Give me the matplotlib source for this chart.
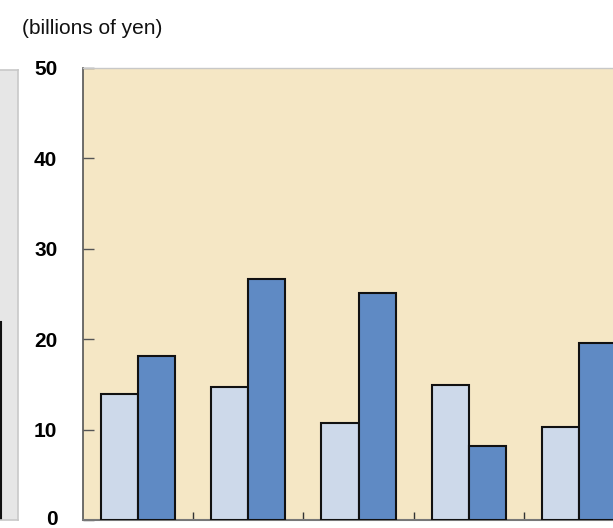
import matplotlib
matplotlib.use("Agg")
import matplotlib.pyplot as plt
import matplotlib.transforms as mtransforms
import numpy as np

plt.rcParams['font.family'] = ['Liberation Sans', 'DejaVu Sans']

# Data
categories = ["A", "B", "C", "D", "E"]
series_light = [13.9, 14.7, 10.7, 14.9, 10.3]
series_dark = [18.1, 26.7, 25.1, 8.2, 19.6]
y_ticks = [0, 10, 20, 30, 40, 50]
left_panel_values = [22.0]

W, H = 613, 528
fig = plt.figure(figsize=(W / 100, H / 100), dpi=100)

def px_axes(x0, y0, x1, y1):
    return fig.add_axes([x0 / W, 1 - y1 / H, (x1 - x0) / W, (y1 - y0) / H])

light_c = "#cdd9ea"
dark_c = "#5f8ac4"
edge_c = "#111111"

# Neighbouring panel on the left (only its edge shows)
axl = px_axes(-120, 70, 18, 520)
axl.set_facecolor("#e6e6e6")
axl.set_xlim(0, 1)
axl.set_ylim(0, 50)
axl.bar([0.5], left_panel_values, width=0.378, align="edge", color=dark_c,
        edgecolor=edge_c, linewidth=1.5)
axl.set_xticks([])
axl.set_yticks([])
for s in axl.spines.values():
    s.set_color("#c8c8c8")
    s.set_linewidth(1.2)

# Main panel
ax = px_axes(83, 68, 634, 520)
ax.set_facecolor("#f5e7c5")
x = np.arange(len(categories))
bw = 0.336
ax.bar(x - bw / 2, series_light, width=bw, color=light_c, edgecolor=edge_c,
       linewidth=1.5, zorder=3)
ax.bar(x + bw / 2, series_dark, width=bw, color=dark_c, edgecolor=edge_c,
       linewidth=1.5, zorder=3)
ax.set_xlim(-0.5, len(categories) - 0.5)
ax.set_ylim(0, 50)

ax.set_yticks(y_ticks)
ax.set_yticklabels([str(v) for v in y_ticks], fontsize=15, fontweight="bold")
ax.tick_params(axis="y", direction="in", length=8, width=1, color="#555555",
               pad=18.5)
# keep the bottom "0" label inside the canvas
lbl0 = ax.get_yticklabels()[0]
lbl0.set_transform(lbl0.get_transform() +
                   mtransforms.ScaledTranslation(0, 2 / 72, fig.dpi_scale_trans))
ax.set_xticks(np.arange(len(categories) - 1) + 0.5)
ax.set_xticklabels([])
ax.tick_params(axis="x", direction="in", length=6, width=1, color="#333333")

ax.spines["left"].set_color("#555555")
ax.spines["left"].set_linewidth(1.2)
ax.spines["bottom"].set_color("#777777")
ax.spines["bottom"].set_linewidth(1.5)
ax.spines["top"].set_color("#c8c8c8")
ax.spines["top"].set_linewidth(1.0)
ax.spines["right"].set_visible(False)

fig.text(22 / W, 1 - 28 / H, "(billions of yen)", fontsize=15,
         ha="left", va="center", color="#111111")

fig.savefig("out.png", dpi=100, facecolor="white")
